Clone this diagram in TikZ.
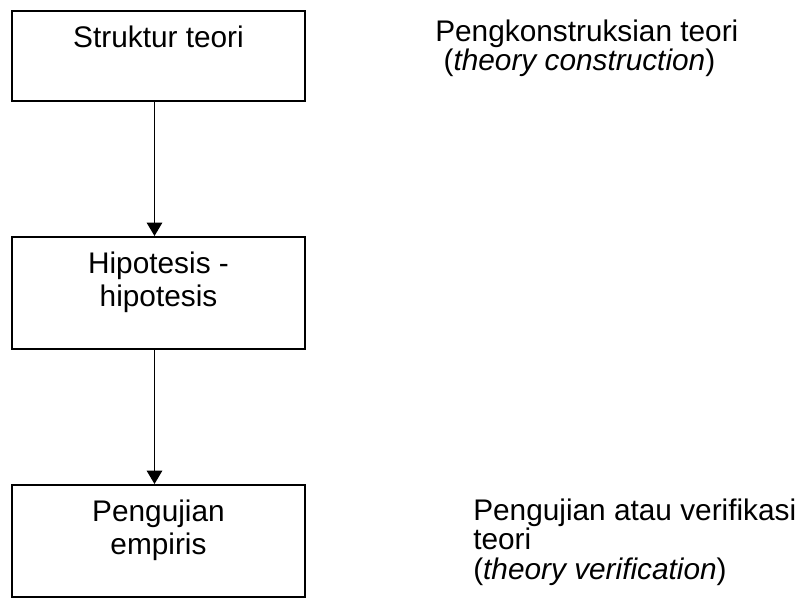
\documentclass[tikz,border=0pt]{standalone}
\usepackage{fontspec}
\setmainfont{Liberation Sans}
\usetikzlibrary{positioning, arrows.meta}

\begin{document}
\begin{tikzpicture}[x=0.75pt, y=0.75pt,
    every node/.style={font=\fontsize{22.35}{24.75}\selectfont},
    box/.style={draw, line width=1.5pt, minimum width=219.75pt, inner sep=0pt},
    boxtext/.style={align=center, inner sep=0pt, anchor=north},
    note/.style={align=left, inner sep=0pt, anchor=north west,
      font=\fontsize{22.35}{21.8}\selectfont},
    flow/.style={-{Triangle[width=11.5pt, length=10pt]}, line width=1.4pt}]
    \useasboundingbox (0,0) rectangle (799,-601);
    % the three boxes
    \node[box, minimum height=67.5pt] (teori) at (158.5,-56) {};
    \node[box, minimum height=84pt] (hipotesis) at (158.5,-293) {};
    \node[box, minimum height=84pt] (uji) at (158.5,-541) {};
    \node[boxtext, below=12pt of teori.north] (teori-txt) {Struktur teori};
    \node[boxtext, below=12pt of hipotesis.north] (hipotesis-txt) {Hipotesis -\\hipotesis};
    \node[boxtext, below=12pt of uji.north] (uji-txt) {Pengujian\\empiris};
    % notes on the right
    \node[note] (konstruksi) at (435,-20)
      {Pengkonstruksian teori\\\hspace*{0.28em}(\textit{theory construction})};
    \node[note] (verifikasi) at (473,-499)
      {Pengujian atau verifikasi\\teori\\(\textit{theory verification})};
    \draw[flow] ([xshift=-3pt]teori.south) -- ([xshift=-3pt]hipotesis.north);
    \draw[flow] ([xshift=-3pt]hipotesis.south) -- ([xshift=-3pt]uji.north);
  \end{tikzpicture}
\end{document}
